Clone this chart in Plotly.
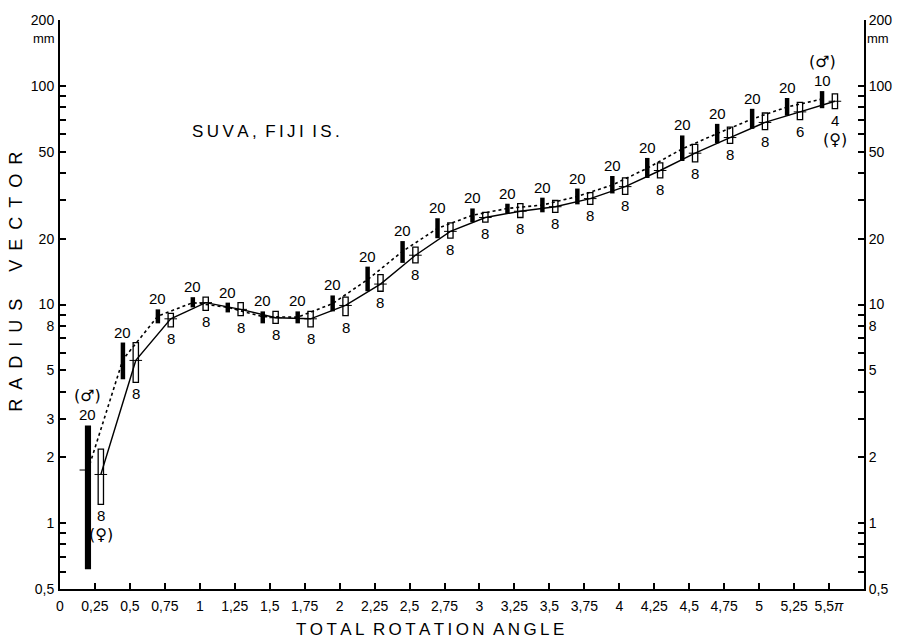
import math
import plotly.graph_objects as go

# ---------------- data ----------------
angles = [0.25, 0.5, 0.75, 1.0, 1.25, 1.5, 1.75, 2.0, 2.25, 2.5, 2.75,
          3.0, 3.25, 3.5, 3.75, 4.0, 4.25, 4.5, 4.75, 5.0, 5.25, 5.5]

male_mean = [1.75, 5.6, 8.85, 10.2, 9.7, 8.8, 8.75, 10.1, 13.0, 17.5, 22.3,
             25.6, 27.5, 28.5, 31.2, 35.2, 42.0, 51.5, 60.5, 70.5, 80.0, 87.0]
male_lo = [0.615, 4.55, 8.2, 9.7, 9.2, 8.2, 8.2, 9.3, 11.5, 15.5, 20.1,
           23.8, 26.2, 26.4, 28.7, 32.2, 37.9, 45.3, 54.6, 63.6, 73.0, 79.0]
male_hi = [2.8, 6.7, 9.5, 10.8, 10.2, 9.3, 9.3, 11.0, 14.9, 19.5, 24.8,
           27.5, 28.9, 30.8, 33.9, 38.7, 46.8, 59.3, 67.0, 78.5, 88.0, 94.6]
male_n = [20, 20, 20, 20, 20, 20, 20, 20, 20, 20, 20,
          20, 20, 20, 20, 20, 20, 20, 20, 20, 20, 10]

female_mean = [1.67, 5.55, 8.6, 10.2, 9.5, 8.7, 8.6, 9.9, 12.4, 16.8, 21.6,
               25.0, 26.7, 28.0, 30.5, 34.6, 41.0, 49.2, 58.0, 68.0, 76.0, 85.0]
female_lo = [1.22, 4.4, 7.9, 9.4, 8.9, 8.2, 7.9, 8.9, 11.5, 15.5, 20.1,
             23.8, 25.0, 26.4, 28.7, 31.9, 37.9, 44.9, 54.6, 63.0, 70.0, 78.6]
female_hi = [2.18, 6.7, 9.1, 10.8, 10.2, 9.3, 9.3, 10.8, 13.7, 18.3, 23.6,
             26.4, 28.9, 29.9, 32.5, 37.9, 44.4, 54.0, 64.8, 75.1, 84.0, 91.8]
female_n = [8, 8, 8, 8, 8, 8, 8, 8, 8, 8, 8,
            8, 8, 8, 8, 8, 8, 8, 8, 8, 6, 4]

x_ticks = [0, 0.25, 0.5, 0.75, 1, 1.25, 1.5, 1.75, 2, 2.25, 2.5, 2.75,
           3, 3.25, 3.5, 3.75, 4, 4.25, 4.5, 4.75, 5, 5.25, 5.5]
x_ticktext = ["0", "0,25", "0,5", "0,75", "1", "1,25", "1,5", "1,75", "2", "2,25",
              "2,5", "2,75", "3", "3,25", "3,5", "3,75", "4", "4,25", "4,5", "4,75",
              "5", "5,25", "5,5<i>π</i>"]

y_ticks = [200, 100, 90, 80, 70, 60, 50, 40, 30, 20, 10, 9, 8, 7, 6, 5, 4, 3, 2,
           1, 0.9, 0.8, 0.7, 0.6, 0.5]
y_labels_left = {200: "200", 100: "100", 50: "50", 20: "20", 10: "10", 8: "8",
                 5: "5", 3: "3", 2: "2", 1: "1", 0.5: "0,5"}
y_labels_right = {200: "200", 100: "100", 50: "50", 20: "20", 10: "10", 8: "8",
                  5: "5", 2: "2", 1: "1", 0.5: "0,5"}

# ---------------- style ----------------
FONT = "Liberation Sans, Arial, Helvetica, sans-serif"
SYM_FONT = "DejaVu Sans, Liberation Sans, sans-serif"
M_OFF, F_OFF = -0.05, 0.042
mx = [a + M_OFF for a in angles]
fx = [a + F_OFF for a in angles]

fig = go.Figure()

# mean lines
fig.add_trace(go.Scatter(x=mx, y=male_mean, mode="lines",
                         line=dict(color="black", width=1.6, dash="3px,3px"),
                         hoverinfo="skip", showlegend=False))
fig.add_trace(go.Scatter(x=fx, y=female_mean, mode="lines",
                         line=dict(color="black", width=1.4),
                         hoverinfo="skip", showlegend=False))

# range bars
m_width = [0.044] + [0.032] * (len(angles) - 1)
fig.add_trace(go.Bar(x=mx, base=male_lo, y=[h - l for h, l in zip(male_hi, male_lo)],
                     width=m_width, marker=dict(color="black", line=dict(width=0)),
                     hoverinfo="skip", showlegend=False))
fig.add_trace(go.Bar(x=fx, base=female_lo, y=[h - l for h, l in zip(female_hi, female_lo)],
                     width=0.038, marker=dict(color="white", line=dict(color="black", width=1.3)),
                     hoverinfo="skip", showlegend=False))

# mean ticks
fig.add_trace(go.Scatter(x=fx, y=female_mean, mode="markers",
                         marker=dict(symbol="line-ew", size=9, line=dict(color="black", width=1)),
                         hoverinfo="skip", showlegend=False))
fig.add_trace(go.Scatter(x=[mx[0] - 0.03], y=[male_mean[0]], mode="markers",
                         marker=dict(symbol="line-ew", size=6, line=dict(color="black", width=1)),
                         hoverinfo="skip", showlegend=False))

# dummy trace for right axis
fig.add_trace(go.Scatter(x=[None], y=[None], yaxis="y2", showlegend=False, hoverinfo="skip"))

annotations = []
lab_font = dict(family=FONT, size=15, color="black")
sym_font = dict(family=SYM_FONT, size=16, color="black")
last = len(angles) - 1
MALE = "(\u2642\ufe0e)"
FEMALE = "(\u2640\ufe0e)"
for i in range(len(angles)):
    annotations.append(dict(x=mx[i], y=math.log10(male_hi[i]), text=str(male_n[i]),
                            showarrow=False, xanchor="center", yanchor="bottom",
                            yshift=0, font=lab_font))
    annotations.append(dict(x=fx[i], y=math.log10(female_lo[i]), text=str(female_n[i]),
                            showarrow=False, xanchor="center", yanchor="top",
                            yshift=-1, font=lab_font))
    if i == 0 or i == last:
        annotations.append(dict(x=mx[i], y=math.log10(male_hi[i]), text=MALE,
                                showarrow=False, xanchor="center", yanchor="bottom",
                                yshift=18, font=sym_font))
        annotations.append(dict(x=fx[i], y=math.log10(female_lo[i]), text=FEMALE,
                                showarrow=False, xanchor="center", yanchor="top",
                                yshift=-19, font=sym_font))

# location text
ts = "\u2009"
annotations.append(dict(x=0.93, y=math.log10(62),
                        text=ts.join("SUVA,") + "\u2002" + ts.join("FIJI") + "\u2002" + ts.join("IS."),
                        showarrow=False, xanchor="left", yanchor="middle",
                        font=dict(family=FONT, size=17, color="black")))
# mm units
annotations.append(dict(xref="paper", x=0, y=math.log10(200), text="mm", showarrow=False,
                        xanchor="right", yanchor="top", xshift=-3, yshift=-9,
                        font=dict(family=FONT, size=13, color="black")))
annotations.append(dict(xref="paper", x=1, y=math.log10(200), text="mm", showarrow=False,
                        xanchor="left", yanchor="top", xshift=1, yshift=-9,
                        font=dict(family=FONT, size=13, color="black")))
# axis titles
sp = "\u2002"
annotations.append(dict(xref="paper", yref="paper", x=0, y=0.54, xshift=-44,
                        text=sp.join("RADIUS") + sp * 3 + sp.join("VECTOR"),
                        textangle=-90, showarrow=False, xanchor="center", yanchor="middle",
                        font=dict(family=FONT, size=18, color="black")))
annotations.append(dict(xref="paper", yref="paper", x=0.46, y=0, yshift=-40,
                        text=ts.join("TOTAL") + "\u2002" + ts.join("ROTATION")
                        + "\u2002" + ts.join("ANGLE"),
                        showarrow=False, xanchor="center", yanchor="middle",
                        font=dict(family=FONT, size=17, color="black")))

yrange = [math.log10(0.5), math.log10(200)]
tickfont = dict(family=FONT, size=14, color="black")
fig.update_layout(
    width=904, height=640,
    margin=dict(l=60, r=37, t=12, b=51),
    paper_bgcolor="white", plot_bgcolor="white",
    barmode="overlay",
    font=dict(family=FONT, size=14, color="black"),
    showlegend=False,
    xaxis=dict(range=[0, 5.75], tickmode="array", tickvals=x_ticks, ticktext=x_ticktext,
               ticks="inside", ticklen=6, tickwidth=1.6, tickcolor="black",
               showline=True, linecolor="black", linewidth=2, mirror=False,
               showgrid=False, zeroline=False, ticklabelstandoff=3, tickfont=tickfont),
    yaxis=dict(type="log", range=yrange, tickmode="array", tickvals=y_ticks,
               ticktext=[y_labels_left.get(v, "") for v in y_ticks],
               ticks="inside", ticklen=6, tickwidth=1.6, tickcolor="black",
               showline=True, linecolor="black", linewidth=2, mirror=False,
               showgrid=False, zeroline=False, ticklabelstandoff=1, tickfont=tickfont),
    yaxis2=dict(type="log", range=yrange, overlaying="y", side="right",
                tickmode="array", tickvals=y_ticks,
                ticktext=[y_labels_right.get(v, "") for v in y_ticks],
                ticks="inside", ticklen=6, tickwidth=1.6, tickcolor="black",
                showline=True, linecolor="black", linewidth=2,
                showgrid=False, zeroline=False, ticklabelstandoff=0, tickfont=tickfont),
    annotations=annotations,
)

fig.write_html("out.html")
